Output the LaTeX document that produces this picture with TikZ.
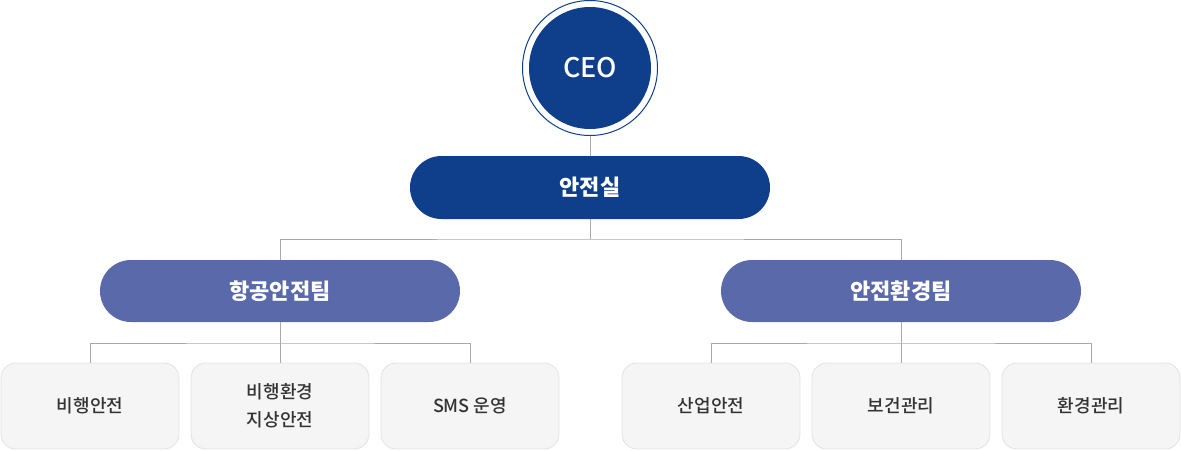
\documentclass[tikz,border=0pt]{standalone}
\usepackage{fontspec}
\setmainfont{Noto Sans CJK KR}
\newfontfamily\medfont{Noto Sans CJK KR Medium}
\definecolor{navy}{HTML}{0F3E8A}
\definecolor{teamblue}{HTML}{5A69AA}
\definecolor{linegray}{HTML}{AAAAAA}
\definecolor{boxfill}{HTML}{F5F5F5}
\definecolor{boxline}{HTML}{E2E2E2}
\definecolor{txt}{HTML}{333333}
\begin{document}
\begin{tikzpicture}[x=1pt,y=-1pt,
  conn/.style={draw=linegray,line width=1pt},
  toppill/.style={fill=navy,rounded corners=31.5pt,minimum width=360pt,minimum height=63pt,inner sep=0pt,text=white,font=\fontsize{22}{26}\selectfont\bfseries},
  teampill/.style={fill=teamblue,rounded corners=31pt,minimum width=360pt,minimum height=62pt,inner sep=0pt,text=white,font=\fontsize{22}{26}\selectfont\bfseries},
  leafbox/.style={fill=boxfill,draw=boxline,line width=0.8pt,rounded corners=15pt,minimum width=178pt,minimum height=86pt,inner sep=0pt,text=txt,align=center,font=\fontsize{18}{28}\medfont}
]
\useasboundingbox (0,0) rectangle (1181,450);
% CEO
\node[circle,draw=navy,line width=1pt,minimum size=135pt,inner sep=0pt] (ceoring) at (590,68) {};
\node[circle,fill=navy,minimum size=122pt,inner sep=0pt,text=white,font=\fontsize{27}{32}\medfont] (ceo) at (590,68) {CEO};
% main office
\node[toppill] (office) at (590,187.5) {안전실};
% teams
\node[teampill] (aviation) at (280,291) {항공안전팀};
\node[teampill] (envteam) at (901,291) {안전환경팀};
% leaves
\node[leafbox] (l1) at (90,406) {비행안전};
\node[leafbox] (l2) at (280,406) {비행환경\\지상안전};
\node[leafbox] (l3) at (470,406) {SMS 운영};
\node[leafbox] (r1) at (711,406) {산업안전};
\node[leafbox] (r2) at (901,406) {보건관리};
\node[leafbox] (r3) at (1091,406) {환경관리};
% bus points
\coordinate (bus1) at (590,239);
\coordinate (busL) at (280,343);
\coordinate (busR) at (901,343);
\draw[conn] (ceoring.south) -- (office.north);
\draw[conn] (office.south) -- (bus1);
\draw[conn] (aviation.north) |- (bus1) -| (envteam.north);
\draw[conn] (aviation.south) -- (busL);
\draw[conn] (l1.north) |- (busL) -| (l3.north);
\draw[conn] (busL) -- (l2.north);
\draw[conn] (envteam.south) -- (busR);
\draw[conn] (r1.north) |- (busR) -| (r3.north);
\draw[conn] (busR) -- (r2.north);
\end{tikzpicture}
\end{document}
